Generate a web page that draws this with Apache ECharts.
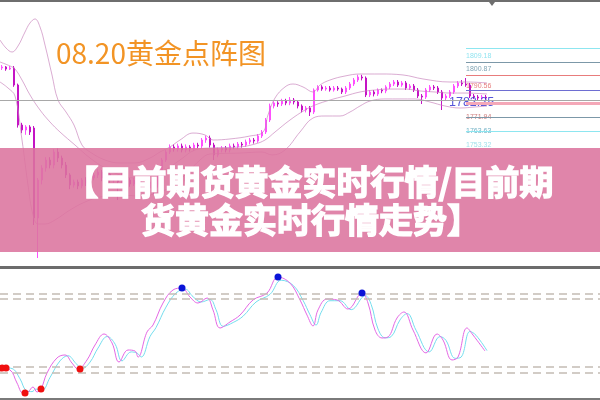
<!DOCTYPE html>
<html><head><meta charset="utf-8">
<style>html,body{margin:0;padding:0;background:#fff}#c{width:600px;height:400px}</style>
<script src="https://cdn.jsdelivr.net/npm/echarts@6/dist/echarts.min.js"></script>
</head><body><div id="c"></div>
<script>
const titleText = '08.20黄金点阵图';
const bannerLines = ['【目前期货黄金实时行情/目前期', '货黄金实时行情走势】'];

// [open, close, low, high]
const candles = [
[1803.75,1804.4,1802.5,1805.6],[1804.4,1803.1,1802,1805],[1803.1,1803.75,1802.5,1805],[1803.75,1793.1,1792,1805],
[1793.1,1768.1,1766.5,1794],[1768.1,1765,1763,1769.5],[1765,1766.9,1762,1768],[1766.9,1763.75,1761.9,1768],
[1766.25,1710,1705.6,1767.5],[1710,1733.75,1685,1735],[1733.75,1741.25,1731,1743],[1741.25,1746.25,1739,1748],
[1746.25,1743.1,1741,1748],[1743.1,1751.25,1741,1753],[1751.25,1747.5,1745,1753.5],[1747.5,1743.1,1741,1749],
[1743.1,1736.9,1735,1745],[1736.9,1730.6,1728,1738],[1730.6,1732.5,1729,1734],[1732.5,1730,1728,1734],
[1730,1733.75,1728.5,1735],[1733.75,1731.9,1730,1735.5],[1731.9,1735,1730,1736.5],[1735,1736.9,1733.5,1738.5],
[1736.9,1738.75,1735,1740.5],[1738.75,1735,1733,1740],[1735,1737.5,1733.5,1739],[1737.5,1733.75,1732,1739],
[1733.75,1735,1732,1736.5],[1735,1732.5,1721.25,1736.5],[1732.5,1736.25,1731,1738],[1736.25,1733.75,1732,1737.5],
[1733.75,1731.25,1729.5,1735],[1731.25,1733.75,1730,1735],[1733.75,1730,1728.5,1735],[1730,1731.9,1728.5,1733],
[1731.9,1728.75,1727,1733],[1728.75,1732.5,1727,1734],[1732.5,1730.6,1724.4,1734],[1730.6,1736.9,1729,1738],
[1736.9,1746.25,1735.5,1747.5],[1746.25,1751.25,1745,1752.5],[1751.25,1754.4,1750,1756],[1754.4,1753.1,1751.5,1756],
[1753.1,1755,1751.5,1756.5],[1755,1752.5,1751,1756.5],[1752.5,1754.4,1751,1756],[1754.4,1753.1,1751.5,1755.5],
[1753.1,1755.6,1752,1757],[1755.6,1755,1753.5,1757],[1755,1758.75,1753.5,1760],[1758.75,1760,1757,1761.5],
[1760,1755.6,1754,1761.5],[1755.6,1749.4,1746.25,1757],[1749.4,1752.5,1748,1754],[1752.5,1753.75,1751,1755],
[1753.75,1752.5,1751,1755],[1752.5,1755,1751,1756.5],[1755,1754.4,1753,1756.5],[1754.4,1756.25,1753,1757.5],
[1756.25,1755.6,1754,1757.5],[1755.6,1757.5,1754.5,1759],[1757.5,1758.75,1756,1760],[1758.75,1758.1,1756.5,1760],
[1758.1,1761.25,1757,1762.5],[1761.25,1763.75,1760,1765],[1763.75,1771.25,1762.5,1772.5],[1771.25,1780,1770,1781.5],
[1780,1781.9,1778.5,1783],[1781.9,1781.25,1779.5,1783],[1781.25,1783.1,1780,1784.5],[1783.1,1781.9,1780.5,1784.5],
[1781.9,1783.75,1780.5,1785.6],[1783.75,1782.5,1781,1785],[1782.5,1780,1778.5,1783.5],[1780,1777.5,1776,1781],
[1777.5,1778.75,1776,1780],[1778.75,1776.25,1773.75,1780],[1776.25,1790,1775,1791],[1790,1791.9,1789,1793],
[1791.9,1790.6,1789.5,1793],[1790.6,1791.25,1789.5,1792.5],[1791.25,1790,1789,1792.5],[1790,1791.25,1789,1792.5],
[1791.25,1790.6,1789.5,1792.5],[1790.6,1788.75,1787.5,1791.5],[1788.75,1791.25,1787.5,1792.5],[1791.25,1793.75,1790,1795],
[1793.75,1796.25,1792.5,1797.5],[1796.25,1798.1,1795,1799.5],[1798.1,1797.5,1796,1799.5],[1797.5,1786.9,1785.6,1798.5],
[1786.9,1788.75,1785.6,1790],[1788.75,1787.5,1786,1790],[1787.5,1790,1786.25,1791],[1790,1789.4,1788,1791],
[1789.4,1791.9,1788,1793],[1791.9,1793.75,1790.6,1795],[1793.75,1795,1792.5,1796.25],[1795,1793.1,1791.9,1796.25],
[1793.1,1794.4,1792,1795.6],[1794.4,1791.25,1790,1795.6],[1791.25,1792.5,1790,1793.75],[1792.5,1790,1788.75,1793.75],
[1790,1786.25,1785,1791.25],[1786.25,1785.6,1781.25,1787.5],[1785.6,1790,1784.4,1791.25],[1790,1791.9,1788.75,1793.1],
[1791.9,1791.25,1790,1793.1],[1791.25,1788.75,1787.5,1792.5],[1788.75,1785,1777.5,1790],[1785,1786.25,1783.75,1787.5],
[1786.25,1788.75,1785,1790],[1788.75,1792.5,1787.5,1793.75],[1792.5,1794.4,1791.25,1795.6],[1794.4,1793.75,1792.5,1796.25],
[1793.75,1793.1,1792,1797.5],[1793.1,1786.25,1785,1794.4],[1786.25,1785.6,1784.4,1787.5],[1785.6,1785,1783.75,1786.9],
[1785,1785.6,1784,1786.9],[1785.6,1785,1784,1786.9]
];

// Bollinger bands: [bar slot, price]
const upperBand = [[0,1821.25],[1.5,1816.25],[3,1813.75],[4.5,1817.5],[6.25,1826.25],[7.5,1831.9],[8.75,1834.4],[10,1829.4],[11.25,1818.1],[13,1799.4],[14.5,1783.75],[16.5,1776.25],[18.5,1768.1],[20.5,1755.6],[22.5,1751.25],[26.25,1746.25],[30,1744.4],[33.75,1744.4],[37.5,1747.5],[40,1751.25],[42.5,1754.4],[45,1758.75],[48.25,1763.1],[51.25,1761.9],[53.25,1758.75],[57.5,1759.4],[62.5,1761.25],[65.75,1763.75],[67,1774.4],[68.75,1785],[71.25,1791.9],[73.25,1793.75],[75.75,1791.9],[78.25,1788.75],[80,1793.1],[82.5,1796.25],[86.25,1798.75],[90,1800],[95,1800],[100.75,1799.4],[105.75,1796.9],[112.5,1795],[116.75,1795],[121.75,1794.4]];
const middleBand = [[0,1807.5],[2.5,1805],[3.75,1803.1],[5.5,1796.25],[7.5,1786.9],[10,1777.5],[12.5,1770],[15,1763.75],[18.75,1755.6],[22.5,1747.5],[26.25,1741.25],[30,1736.9],[33.75,1735],[37.5,1736.25],[41.25,1740],[45,1746.25],[48.75,1752.5],[52.5,1753.75],[60,1754.4],[63.75,1756.25],[66.25,1758.75],[68.75,1763.75],[72.5,1771.25],[76.25,1777.5],[78.75,1780.6],[82.5,1783.75],[86.25,1786.25],[90,1788.75],[93.75,1790],[97.5,1790.6],[101.25,1790.6],[105,1789.4],[108.75,1788.75],[112.5,1788.1],[116.25,1788.1],[121.75,1787.5]];
const lowerBand = [[0,1795],[2,1791.25],[3.75,1786.25],[5.5,1758.75],[7,1730.6],[8.25,1711.9],[9.5,1706.25],[11.25,1706.25],[13.75,1708.75],[17.5,1715],[21.25,1720],[25,1723.1],[30,1724.4],[35,1723.75],[40,1726.25],[43.75,1731.25],[47.5,1740],[50,1746.25],[52.5,1750],[60,1750.6],[65.5,1751.25],[68,1749.4],[71.25,1752.5],[75,1763.75],[78.25,1772.5],[81.25,1773.75],[85,1773.75],[87.5,1776.25],[90,1780],[92.5,1783.1],[96.25,1784.4],[100,1784.4],[103.75,1784.4],[107.5,1782.5],[111.25,1780],[115,1778.75],[118.75,1779.4],[121.75,1780]];

const levelPrices = [1816.25, 1807.5, 1799.4, 1790, 1781.9, 1773.1, 1764.4];
const levelColors = ['#8DE6F0','#7C98A8','#E87C7C','#6E6ED2','#F4A8B8','#7C98A8','#8DE6F0'];
const levelWidths = [1, 1, 1, 1, 3, 1, 1];
const pivotPrice = 1783.75;
const levelLabels = ['1809.18','1800.87','1790.56','1771.94','1763.63','1753.32'];
const labelPrices = [1811.25, 1803.1, 1792.5, 1773.1, 1764.4, 1755.6];
const labelColors = ['#72DCEC','#5E8CA0','#E05A5A','#C05A5A','#4E9EB6','#86D8E6'];
const lastPrice = 1782.25;

// oscillator: [bar slot, value]
const oscMain = [[0,23.4],[2.5,21.9],[4.25,11.7],[5.75,3.9],[7,4.7],[8.25,8.6],[9.25,4.7],[10.25,7],[11.75,19.5],[14.25,31.3],[16.25,33.6],[18,27.3],[19.5,22.7],[21.75,29.7],[23.75,41.4],[26,50],[28,43],[29.75,28.1],[32,37.5],[33.75,36.7],[34.5,32],[36.75,51.6],[38.25,57],[40.75,74.2],[43.25,84.4],[45.5,85.9],[47.5,78.9],[49.5,74.2],[51.75,78.1],[53.25,68.8],[55,54.7],[57.5,59.4],[60,64.8],[63.25,76.6],[66.75,82],[69.5,94.5],[72.5,89.8],[75,76.6],[76.75,64.8],[78.25,56.3],[79.5,68.8],[81.75,77.3],[84.25,76.6],[87,69.5],[90.5,82],[92,74.2],[93.75,53.1],[95.5,46.9],[97,47.7],[99.25,62.5],[101,67.2],[103.25,53.1],[106.5,35.2],[109.25,50],[110.75,45.3],[113,29.7],[114.5,32],[116.75,54.7],[118.25,49.2],[121.25,36.7]];
const oscSignal = [[0,24],[3,23],[5,15],[6.5,6],[8,5],[9,7],[10.5,6],[12.5,16],[15,29],[17,33],[19,27],[20.5,23],[22.5,28],[24.5,39],[26.8,48],[28.8,42],[30.5,29],[32.8,36],[34.3,35],[35.3,32],[37.5,48],[39,55],[41.5,71],[44,82],[46.3,85],[48.3,79],[50.3,75],[52.5,77],[54,69],[55.8,56],[58.3,59],[60.8,64],[64,75],[67.5,81],[70.3,92],[73.3,88],[75.8,76],[77.5,65],[79,57],[80.3,67],[82.5,76],[85,76],[87.8,69],[91.3,80],[92.8,73],[94.5,54],[96.3,47],[97.8,48],[100,61],[101.8,66],[104,53],[107.3,36],[110,48],[111.5,45],[113.8,31],[115.3,32],[117.5,52],[119,49],[121.75,37]];
const oscLevels = [81.25, 77.3, 24.2, 19.5];
const lowDots = [[0.5,23.4],[1.5,23.4],[6.25,3.9],[10.25,7],[20,22.7]];
const highDots = [[45.5,85.9],[69.5,94.5],[90.5,82]];

const slotCount = 150;
const levelStart = 116.5;
const slots = Array.from({length: slotCount}, (_, i) => String(i));

const chart = echarts.init(document.getElementById('c'), null, {renderer: 'canvas'});
const bandStyle = {color: '#C884BC', width: 0.8, opacity: 0.85};
const cjk = '"Noto Sans CJK SC", "Noto Sans", sans-serif';

const levelLines = levelPrices.map((p, i) => [
  {coord: [levelStart, p], lineStyle: {color: levelColors[i], width: levelWidths[i], type: 'solid'}},
  {coord: [slotCount, p]}
]);
levelLines.push([{coord: [0, pivotPrice], lineStyle: {color: '#A8A8A8', width: 1, type: 'solid'}}, {coord: [slotCount, pivotPrice]}]);

const dotStyle = (c) => ({color: c, opacity: 1, borderWidth: 0, shadowBlur: 0});

chart.setOption({
  animation: false,
  backgroundColor: '#ffffff',
  title: {
    text: titleText, left: 51, top: 34,
    textStyle: {color: '#F29425', fontSize: 28, fontWeight: 'normal', fontFamily: cjk}
  },
  grid: [
    {left: 0, top: 2, width: 600, height: 264},
    {left: 0, top: 270, width: 600, height: 128}
  ],
  xAxis: [
    {type: 'category', gridIndex: 0, data: slots, boundaryGap: true, show: false},
    {type: 'value', gridIndex: 0, min: 0, max: slotCount, show: false},
    {type: 'value', gridIndex: 1, min: 0, max: slotCount, show: false}
  ],
  yAxis: [
    {type: 'value', gridIndex: 0, min: 1680, max: 1845, show: false, splitLine: {show: false}},
    {type: 'value', gridIndex: 1, min: 0, max: 100, show: false, splitLine: {show: false}}
  ],
  series: [
    {
      type: 'candlestick', xAxisIndex: 0, yAxisIndex: 0, data: candles, barWidth: 2,
      itemStyle: {color: '#FF50FF', color0: '#C414C4', borderColor: '#FF50FF', borderColor0: '#C414C4', borderWidth: 1}
    },
    {
      type: 'line', xAxisIndex: 1, yAxisIndex: 0, data: upperBand, smooth: 0.4, showSymbol: false, lineStyle: bandStyle,
      markLine: {silent: true, symbol: 'none', label: {show: false}, data: levelLines}
    },
    {type: 'line', xAxisIndex: 1, yAxisIndex: 0, data: middleBand, smooth: 0.4, showSymbol: false, lineStyle: bandStyle},
    {type: 'line', xAxisIndex: 1, yAxisIndex: 0, data: lowerBand, smooth: 0.4, showSymbol: false, lineStyle: bandStyle},
    {
      type: 'scatter', xAxisIndex: 1, yAxisIndex: 0, symbolSize: 0,
      data: labelPrices.map((p, i) => ({name: levelLabels[i], value: [levelStart, p], label: {color: labelColors[i]}})),
      label: {show: true, position: 'right', distance: 0, formatter: '{b}', fontSize: 7, fontFamily: 'Liberation Sans'}
    },
    {
      type: 'scatter', xAxisIndex: 1, yAxisIndex: 0, symbolSize: 0,
      data: [{name: String(lastPrice), value: [112.25, lastPrice]}],
      label: {show: true, position: 'right', distance: 0, formatter: '{b}', fontSize: 12.5, color: '#2A2AD0', fontFamily: 'Liberation Sans'}
    },
    {
      type: 'line', xAxisIndex: 2, yAxisIndex: 1, data: oscSignal, smooth: 0.4, showSymbol: false,
      lineStyle: {color: '#74DDEE', width: 1}
    },
    {
      type: 'line', xAxisIndex: 2, yAxisIndex: 1, data: oscMain, smooth: 0.4, showSymbol: false,
      lineStyle: {color: '#E468E4', width: 1},
      markLine: {
        silent: true, symbol: 'none', label: {show: false},
        lineStyle: {color: '#C4BCB4', width: 1.5, type: [8, 5]},
        data: oscLevels.map(v => ({yAxis: v}))
      }
    },
    {type: 'scatter', xAxisIndex: 2, yAxisIndex: 1, data: lowDots, symbol: 'circle', symbolSize: 7, z: 10, itemStyle: dotStyle('#F01010')},
    {type: 'scatter', xAxisIndex: 2, yAxisIndex: 1, data: highDots, symbol: 'circle', symbolSize: 7, z: 10, itemStyle: dotStyle('#0A14D8')}
  ],
  graphic: [
    {type: 'rect', shape: {x: 0, y: 0, width: 600, height: 2}, style: {fill: '#6E6E6E'}, z: 50},
    {type: 'polygon', shape: {points: [[489, 2], [495, 2], [492, 6]]}, style: {fill: '#6E6E6E'}, z: 50},
    {type: 'rect', shape: {x: 0, y: 266, width: 600, height: 3}, style: {fill: '#6C6C6C'}, z: 50},
    {type: 'rect', shape: {x: 0, y: 398, width: 600, height: 2}, style: {fill: '#7A7A7A'}, z: 50},
    {type: 'rect', shape: {x: 0, y: 148, width: 600, height: 104}, style: {fill: 'rgba(220,116,158,0.88)'}, z: 100},
    {type: 'text', z: 101, style: {text: bannerLines[0], x: 309, y: 182, fill: '#ffffff', stroke: '#ffffff', lineWidth: 1.4, font: 'bold 34px ' + cjk, textAlign: 'center', textVerticalAlign: 'middle'}},
    {type: 'text', z: 101, style: {text: bannerLines[1], x: 311, y: 220, fill: '#ffffff', stroke: '#ffffff', lineWidth: 1.4, font: 'bold 34px ' + cjk, textAlign: 'center', textVerticalAlign: 'middle'}}
  ]
});
</script>
</body></html>
